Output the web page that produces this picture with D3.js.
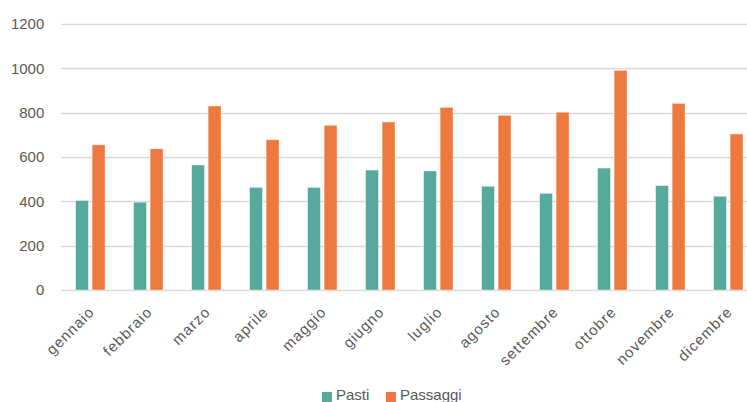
<!DOCTYPE html>
<html>
<head>
<meta charset="UTF-8">
<title>Pasti e Passaggi</title>
<script src="https://d3js.org/d3.v7.min.js"></script>
<style>
  body { margin: 0; background: #fff; }
  text { font-family: "Liberation Sans", Arial, sans-serif; fill: #595959; }
</style>
</head>
<body>
<div id="chart"></div>
<script>
// data
var mesi = ["gennaio", "febbraio", "marzo", "aprile", "maggio", "giugno",
            "luglio", "agosto", "settembre", "ottobre", "novembre", "dicembre"];
var pasti = [404, 396, 564, 463, 463, 541, 537, 468, 436, 550, 471, 423];
var passaggi = [655, 637, 830, 678, 743, 758, 824, 788, 802, 991, 842, 704];
var serie = ["Pasti", "Passaggi"];
var yTicks = [0, 200, 400, 600, 800, 1000, 1200];

var colori = { "Pasti": "#55aa9d", "Passaggi": "#ee793e" };

var W = 747, H = 402;
var margin = { top: 24, left: 61.3, bottom: 112 };
var h = H - margin.top - margin.bottom;
var bandW = 58;           // the plot runs past the right edge of the picture
var gridRight = W - margin.left;

var svg = d3.select("#chart").append("svg")
    .attr("width", W)
    .attr("height", H);

var g = svg.append("g")
    .attr("transform", "translate(" + margin.left + "," + margin.top + ")");

var x = d3.scaleBand().domain(mesi).range([0, bandW * mesi.length]).padding(0);
var xIn = d3.scaleBand().domain(serie)
    .range([x.bandwidth() / 2 - 14.7, x.bandwidth() / 2 + 14.7])
    .paddingInner(0.22);
var y = d3.scaleLinear().domain([0, 1200]).range([h, 0]);

// gridlines
g.selectAll("line.grid")
    .data(yTicks)
    .enter().append("line")
    .attr("class", "grid")
    .attr("x1", 0).attr("x2", gridRight)
    .attr("y1", function(d) { return Math.round(y(d)) + 0.5; })
    .attr("y2", function(d) { return Math.round(y(d)) + 0.5; })
    .attr("stroke", "#d9d9d9")
    .attr("stroke-width", 1.3);

// y labels
g.selectAll("text.ylab")
    .data(yTicks)
    .enter().append("text")
    .attr("class", "ylab")
    .attr("x", -17)
    .attr("y", function(d) { return y(d); })
    .attr("dy", "0.35em")
    .attr("text-anchor", "end")
    .style("font-size", "15px")
    .text(function(d) { return d; });

// bars
var rows = mesi.map(function(m, i) { return { mese: m, Pasti: pasti[i], Passaggi: passaggi[i] }; });

var gruppi = g.selectAll("g.mese")
    .data(rows)
    .enter().append("g")
    .attr("class", "mese")
    .attr("transform", function(d) { return "translate(" + x(d.mese) + ",0)"; });

gruppi.selectAll("rect")
    .data(function(d) { return serie.map(function(s) { return { s: s, v: d[s] }; }); })
    .enter().append("rect")
    .attr("x", function(d) { return xIn(d.s); })
    .attr("width", xIn.bandwidth())
    .attr("y", function(d) { return y(d.v); })
    .attr("height", function(d) { return h - y(d.v); })
    .attr("fill", function(d) { return colori[d.s]; })
    .attr("stroke", "#ffffff")
    .attr("stroke-opacity", 0.5)
    .attr("stroke-width", 0.8);

// x labels, rotated
g.selectAll("text.xlab")
    .data(mesi)
    .enter().append("text")
    .attr("class", "xlab")
    .attr("transform", function(d) {
        return "translate(" + (x(d) + x.bandwidth() / 2 + 5) + "," + (h + 23) + ") rotate(-45)";
    })
    .attr("text-anchor", "end")
    .style("font-size", "15px")
    .style("letter-spacing", "1px")
    .text(function(d) { return d; });

// legend
var legend = svg.append("g")
    .attr("transform", "translate(322,392)");

var legX = { "Pasti": 0, "Passaggi": 64 };
var voci = legend.selectAll("g")
    .data(serie)
    .enter().append("g")
    .attr("transform", function(d) { return "translate(" + legX[d] + ",0)"; });

voci.append("rect")
    .attr("width", 10).attr("height", 10)
    .attr("fill", function(d) { return colori[d]; });

voci.append("text")
    .attr("x", 14)
    .attr("y", 7.5)
    .style("font-size", "15px")
    .text(function(d) { return d; });
</script>
</body>
</html>
